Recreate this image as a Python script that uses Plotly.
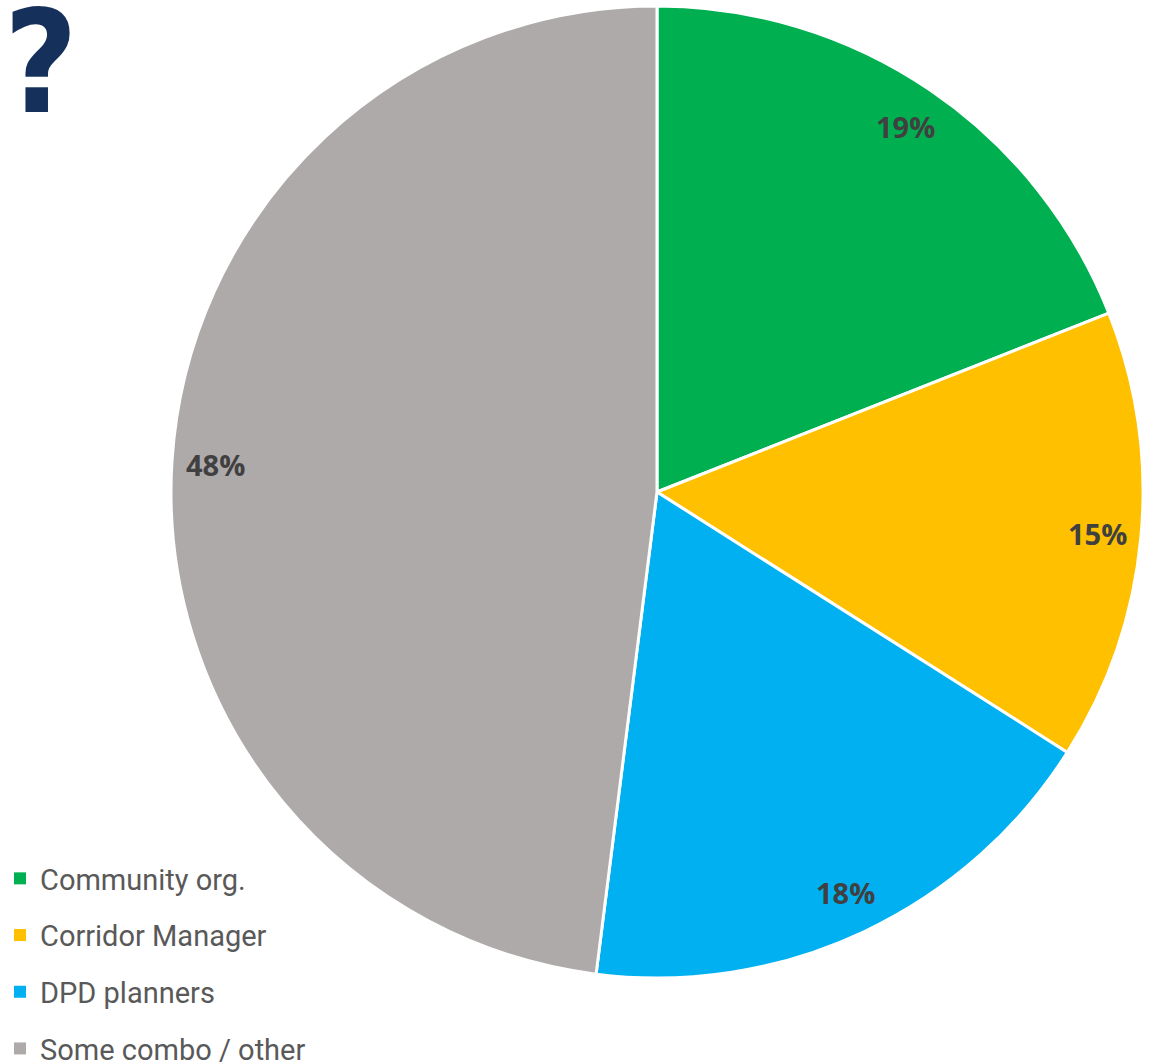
import math
import plotly.graph_objects as go

# Who leads: share of responses by group
labels = ["Community org.", "Corridor Manager", "DPD planners", "Some combo / other"]
shares = [19, 15, 18, 48]
colors = ["#00B050", "#FFC000", "#00B0F0", "#AEAAAA"]

W, H = 1159, 1063
CX, CY, R = 657, 492, 486      # pie centre and radius (px)
LABEL_R = 0.91                 # label distance from centre, as a fraction of R

fig = go.Figure()

fig.add_trace(go.Pie(
    labels=labels,
    values=shares,
    sort=False,
    direction="clockwise",
    rotation=0,
    marker=dict(colors=colors, line=dict(color="white", width=3)),
    textinfo="none",
    hoverinfo="label+percent",
    showlegend=False,
    domain=dict(x=[(CX - R) / W, (CX + R) / W],
                y=[1 - (CY + R) / H, 1 - (CY - R) / H]),
))

# Legend entries, one group each so the rows can be spaced apart
for lab, col in zip(labels, colors):
    fig.add_trace(go.Scatter(
        x=[None], y=[None], mode="markers", name=lab, legendgroup=lab,
        marker=dict(symbol="square", size=12, color=col),
        hoverinfo="skip",
    ))

# Percent labels placed near the outer edge of each slice
total = sum(shares)
cum = 0
for v in shares:
    mid = (cum + v / 2) / total * 2 * math.pi
    cum += v
    px = CX + LABEL_R * R * math.sin(mid)
    py = CY - LABEL_R * R * math.cos(mid)
    fig.add_annotation(
        x=px / W, y=1 - py / H, xref="paper", yref="paper",
        xanchor="center", yanchor="middle",
        text=f"<b>{round(v / total * 100)}%</b>", showarrow=False,
        font=dict(family="Open Sans, sans-serif", size=29, color="#404040"),
    )

# Title tail running in from the left edge
fig.add_annotation(
    x=80 / W, y=1 + 22 / H, xref="paper", yref="paper",
    xanchor="right", yanchor="top",
    text="<b>e?</b>", showarrow=False,
    font=dict(family="Liberation Sans Narrow, DejaVu Sans Condensed, sans-serif",
              size=142, color="#15305A"),
)

fig.update_xaxes(visible=False)
fig.update_yaxes(visible=False)

fig.update_layout(
    width=W, height=H,
    margin=dict(l=0, r=0, t=0, b=0, autoexpand=False),
    paper_bgcolor="white",
    plot_bgcolor="white",
    legend=dict(
        x=0.0, y=1 - 853 / H, xanchor="left", yanchor="top",
        traceorder="grouped", tracegroupgap=16,
        font=dict(family="Roboto, sans-serif", size=29, color="#595959"),
        bgcolor="rgba(0,0,0,0)",
    ),
)

fig.write_html("out.html")
